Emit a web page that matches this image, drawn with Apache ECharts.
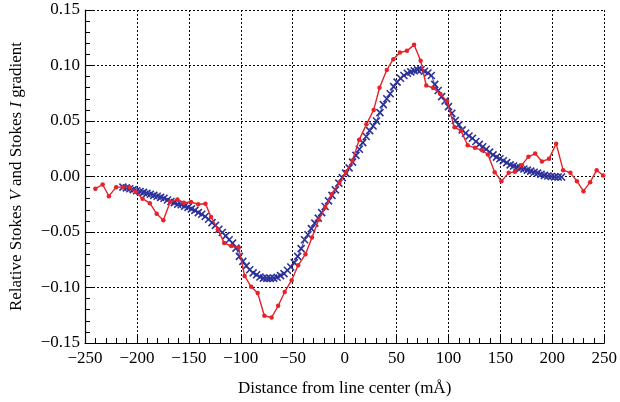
<!DOCTYPE html>
<html><head><meta charset="utf-8">
<script src="https://cdn.jsdelivr.net/npm/echarts@6/dist/echarts.min.js"></script>
<style>html,body{margin:0;padding:0;background:#fff}#c{width:620px;height:402px}</style>
</head><body><div id="c"></div>
<script>
const xTicks = [-250,-200,-150,-100,-50,0,50,100,150,200,250];
const yTicks = [-0.15,-0.10,-0.05,0.00,0.05,0.10,0.15];

const stokesVX = [-240,-233,-227,-220,-213.6,-207,-201,-194.6,-187.6,-181,-174.6,-168,-161,-155,-148,-141,-134,-128.6,-122,-116,-109,-102,-96.3,-90,-83.7,-77.3,-70.3,-64,-57.7,-51,-44.7,-37.7,-31.4,-25,-18.7,-12.4,-5,1.3,7.6,14,21,28,33.6,40.6,46.9,53.2,60,66.9,73.2,78.6,85.3,92.2,98.6,105.8,112,118.5,125.5,132.4,138,144.5,151,158,164,170.4,177,183.5,190,196.8,203.7,210.4,217.4,223.7,230,236.4,242.7,249];
const stokesVY = [-0.011,-0.0072,-0.0177,-0.0096,-0.0096,-0.010,-0.014,-0.020,-0.024,-0.0335,-0.0395,-0.023,-0.0207,-0.0237,-0.023,-0.025,-0.0245,-0.0365,-0.0475,-0.060,-0.0626,-0.064,-0.0896,-0.0994,-0.105,-0.1255,-0.127,-0.1165,-0.104,-0.0934,-0.080,-0.070,-0.055,-0.039,-0.028,-0.016,-0.0057,0.0039,0.0144,0.033,0.047,0.060,0.080,0.096,0.1057,0.1117,0.1132,0.1186,0.1042,0.082,0.0797,0.0743,0.0677,0.0443,0.0413,0.0281,0.0258,0.0236,0.0198,0.0039,-0.0042,0.0033,0.0042,0.0102,0.0177,0.0207,0.0135,0.0159,0.0296,0.0057,0.0033,-0.0042,-0.0132,-0.0051,0.0057,0.0009];

const gradX = [-213.5,-210.2,-206.9,-203.6,-200.3,-197.0,-193.7,-190.4,-187.1,-183.8,-180.5,-177.2,-173.9,-170.6,-167.3,-164.0,-160.7,-157.4,-154.1,-150.8,-147.5,-144.2,-140.9,-137.6,-134.3,-131.0,-127.7,-124.4,-121.1,-117.8,-114.5,-111.2,-107.9,-104.6,-101.3,-98.0,-94.7,-91.4,-88.1,-84.8,-81.5,-78.2,-74.9,-71.6,-68.3,-65.0,-61.7,-58.4,-55.1,-51.8,-48.5,-45.2,-41.9,-38.6,-35.3,-32.0,-28.7,-25.4,-22.1,-18.8,-15.5,-12.2,-8.9,-5.6,-2.3,1.0,4.3,7.6,10.9,14.2,17.5,20.8,24.1,27.4,30.7,34.0,37.3,40.6,43.9,47.2,50.5,53.8,57.1,60.4,63.7,67.0,70.3,73.6,76.9,80.2,83.5,86.8,90.1,93.4,96.7,100.0,103.3,106.6,109.9,113.2,116.5,119.8,123.1,126.4,129.7,133.0,136.3,139.6,142.9,146.2,149.5,152.8,156.1,159.4,162.7,166.0,169.3,172.6,175.9,179.2,182.5,185.8,189.1,192.4,195.7,199.0,202.3,205.6,208.9];
const gradY = [-0.0096,-0.0102,-0.0110,-0.0118,-0.0128,-0.0135,-0.0143,-0.0152,-0.0160,-0.0170,-0.0178,-0.0188,-0.0196,-0.0212,-0.0225,-0.0235,-0.0250,-0.0255,-0.0268,-0.0278,-0.0292,-0.0305,-0.0325,-0.0340,-0.0360,-0.0385,-0.0416,-0.0440,-0.0475,-0.0505,-0.0535,-0.0570,-0.0600,-0.0645,-0.0720,-0.0765,-0.0805,-0.0840,-0.0868,-0.0885,-0.0905,-0.0915,-0.0918,-0.0918,-0.0915,-0.0908,-0.0893,-0.0875,-0.0845,-0.0815,-0.0776,-0.0720,-0.0650,-0.0570,-0.0525,-0.0470,-0.0420,-0.0375,-0.0326,-0.0270,-0.0220,-0.0170,-0.0120,-0.0060,-0.0010,0.0030,0.0078,0.0130,0.0190,0.0245,0.0305,0.0360,0.0413,0.0455,0.0500,0.0575,0.0647,0.0700,0.0745,0.0810,0.0850,0.0885,0.0910,0.0930,0.0942,0.0953,0.0960,0.0962,0.0948,0.0932,0.0910,0.0830,0.0775,0.0720,0.0680,0.0630,0.0570,0.0505,0.0465,0.0420,0.0390,0.0365,0.0345,0.0315,0.0290,0.0268,0.0245,0.0220,0.0195,0.0175,0.0160,0.0142,0.0125,0.0105,0.0095,0.0085,0.0075,0.0068,0.0058,0.0048,0.0038,0.0030,0.0020,0.0010,0.0005,0.0000,-0.0003,-0.0005,-0.0004];

const FONT = '"Liberation Serif","Times New Roman",serif';
const chart = echarts.init(document.getElementById('c'), null, {renderer:'canvas'});
const minus = s => String(s).replace('-', '\u2212');
const axisCommon = {
  axisLine:{show:true,onZero:false,lineStyle:{color:'#000',width:1.2}},
  axisTick:{show:true,inside:true,length:9,lineStyle:{color:'#000',width:1}},
  minorTick:{show:true,splitNumber:5,length:5,lineStyle:{color:'#000',width:1}},
  splitLine:{show:true,lineStyle:{color:'#000',width:1,type:[2,2]}},
  minorSplitLine:{show:false}
};
chart.setOption({
  animation:false,
  backgroundColor:'#fff',
  grid:{left:85,right:9,top:10,bottom:58,containLabel:false},
  xAxis:Object.assign({
    type:'value', min:xTicks[0], max:xTicks[xTicks.length-1], interval:50,
    name:'Distance from line center (mÅ)', nameLocation:'middle', nameGap:37,
    nameTextStyle:{fontFamily:FONT,fontSize:17,color:'#000'},
    axisLabel:{fontFamily:FONT,fontSize:17,color:'#000',margin:7,formatter:v=>minus(v)}
  }, axisCommon),
  yAxis:Object.assign({
    type:'value', min:yTicks[0], max:yTicks[yTicks.length-1], interval:0.05,
    name:'{n|Relative Stokes }{i|V}{n| and Stokes }{i|I}{n| gradient}', nameLocation:'middle', nameGap:60,
    nameTextStyle:{fontFamily:FONT,fontSize:17,color:'#000',
      rich:{n:{fontFamily:FONT,fontSize:17,color:'#000'},i:{fontFamily:FONT,fontSize:17,color:'#000',fontStyle:'italic'}}},
    axisLabel:{fontFamily:FONT,fontSize:17,color:'#000',margin:5,formatter:v=>minus(v.toFixed(2))}
  }, axisCommon),
  series:[
    {type:'line', data:gradX.map((x,i)=>[x,gradY[i]]), symbol:'path://M0,0L10,10M10,0L0,10', symbolSize:7,
     showAllSymbol:true, lineStyle:{color:'#3a46a8',width:1},
     itemStyle:{color:'#2b3199',borderColor:'#2b3199',borderWidth:1.6}, z:2},
    {type:'line', data:stokesVX.map((x,i)=>[x,stokesVY[i]]), symbol:'circle', symbolSize:4.5,
     showAllSymbol:true, lineStyle:{color:'#e4232b',width:1.4},
     itemStyle:{color:'#e4232b'}, z:3}
  ]
});
</script></body></html>
